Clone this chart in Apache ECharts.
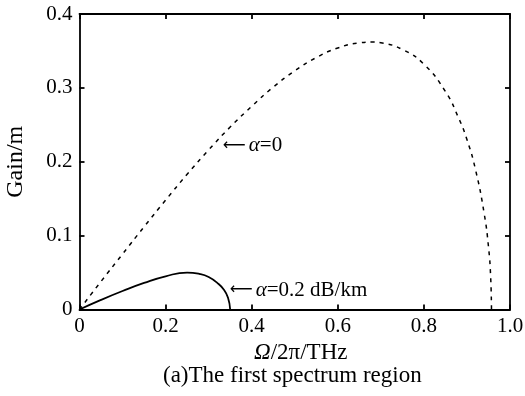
<!DOCTYPE html>
<html>
<head>
<meta charset="utf-8">
<script src="https://cdn.jsdelivr.net/npm/echarts@6/dist/echarts.min.js"></script>
<style>html,body{margin:0;padding:0;background:#fff;}#c{width:525px;height:396px;}</style>
</head>
<body>
<div id="c"></div>
<script>
// α = 0 curve (dashed)
const lossless_x = [0, 0.05, 0.1, 0.15, 0.2, 0.25, 0.3, 0.35, 0.4, 0.45, 0.5, 0.55, 0.6, 0.65, 0.68, 0.7, 0.75, 0.8, 0.85, 0.88, 0.9, 0.92, 0.94, 0.95, 0.955, 0.957];
const lossless_y = [0, 0.038, 0.075, 0.112, 0.148, 0.183, 0.216, 0.247, 0.275, 0.301, 0.323, 0.341, 0.354, 0.361, 0.362, 0.361, 0.352, 0.332, 0.295, 0.260, 0.230, 0.189, 0.130, 0.085, 0.045, 0];
// α = 0.2 dB/km curve (solid)
const lossy_x = [0, 0.05, 0.1, 0.15, 0.2, 0.25, 0.28, 0.3, 0.32, 0.335, 0.345, 0.35];
const lossy_y = [0, 0.013, 0.025, 0.036, 0.045, 0.050, 0.048, 0.044, 0.036, 0.027, 0.016, 0];
const xTicks = [0, 0.2, 0.4, 0.6, 0.8, 1.0];
const yTicks = [0, 0.1, 0.2, 0.3, 0.4];
const labelA0 = 'α=0';
const labelA02 = 'α=0.2 dB/km';

const FONT = '"Liberation Serif", "Times New Roman", serif';
const zip = (a, b) => a.map((v, i) => [v, b[i]]);
const fmt = v => (Math.abs(v) < 1e-9 ? '0' : v.toFixed(1));

const chart = echarts.init(document.getElementById('c'), null, {renderer: 'canvas'});
const axisLine = {show: true, onZero: false, lineStyle: {color: '#000', width: 1.8}};
const axisTick = {show: true, inside: true, length: 5, lineStyle: {color: '#000', width: 1.8}};

const rich = {
  ar: {fontFamily: '"DejaVu Sans", sans-serif', fontSize: 16, color: '#000', padding: [0, 3, 0, 0]},
  i: {fontFamily: FONT, fontSize: 21, fontStyle: 'italic', color: '#000'},
  n: {fontFamily: FONT, fontSize: 21, color: '#000'}
};
const nameRich = {
  i: {fontFamily: FONT, fontSize: 23, fontStyle: 'italic', color: '#000'},
  n: {fontFamily: FONT, fontSize: 23, color: '#000'}
};
function annot(txt) {
  const a = txt.charAt(0), rest = txt.slice(1);
  return '{ar|\u27F5}{i|' + a + '}{n|' + rest + '}';
}

chart.setOption({
  animation: false,
  backgroundColor: '#fff',
  title: {
    text: '(a)The first spectrum region',
    left: 158,
    top: 359,
    textStyle: {fontFamily: FONT, fontSize: 23, fontWeight: 'normal', color: '#000'}
  },
  grid: {left: 79.5, right: 15, top: 14, bottom: 86.5, containLabel: false, outerBoundsMode: 'none'},
  xAxis: [{
    type: 'value', min: 0, max: 1, interval: 0.2, position: 'bottom',
    axisLine, axisTick, splitLine: {show: false},
    axisLabel: {formatter: fmt, fontFamily: FONT, fontSize: 21, color: '#000', margin: 6},
    name: '{i|Ω}{n|/2π/THz}', nameLocation: 'middle', nameGap: 27,
    nameTextStyle: {rich: nameRich, padding: [0, 0, 0, 12]}
  }, {
    type: 'value', min: 0, max: 1, interval: 0.2, position: 'top',
    axisLine, axisTick, splitLine: {show: false}, axisLabel: {show: false}
  }],
  yAxis: [{
    type: 'value', min: 0, max: 0.4, interval: 0.1, position: 'left',
    axisLine, axisTick, splitLine: {show: false},
    axisLabel: {formatter: fmt, fontFamily: FONT, fontSize: 21, color: '#000', margin: 7},
    name: 'Gain/m', nameLocation: 'middle', nameGap: 52,
    nameTextStyle: {fontFamily: FONT, fontSize: 24, color: '#000'}
  }, {
    type: 'value', min: 0, max: 0.4, interval: 0.1, position: 'right',
    axisLine, axisTick, splitLine: {show: false}, axisLabel: {show: false}
  }],
  series: [{
    type: 'line', name: labelA0, data: zip(lossless_x, lossless_y), smooth: true,
    showSymbol: false, lineStyle: {color: '#000', width: 1.5, type: [4, 5]},
    markPoint: {
      symbol: 'circle', symbolSize: 0,
      data: [{coord: [0.333, 0.222]}],
      label: {show: true, position: 'right', distance: 0, align: 'left', verticalAlign: 'middle',
        formatter: annot(labelA0), rich}
    }
  }, {
    type: 'line', name: labelA02, data: zip(lossy_x, lossy_y), smooth: true,
    showSymbol: false, lineStyle: {color: '#000', width: 1.8},
    markPoint: {
      symbol: 'circle', symbolSize: 0,
      data: [{coord: [0.349, 0.026]}],
      label: {show: true, position: 'right', distance: 0, align: 'left', verticalAlign: 'middle',
        formatter: annot(labelA02), rich}
    }
  }]
});
</script>
</body>
</html>
